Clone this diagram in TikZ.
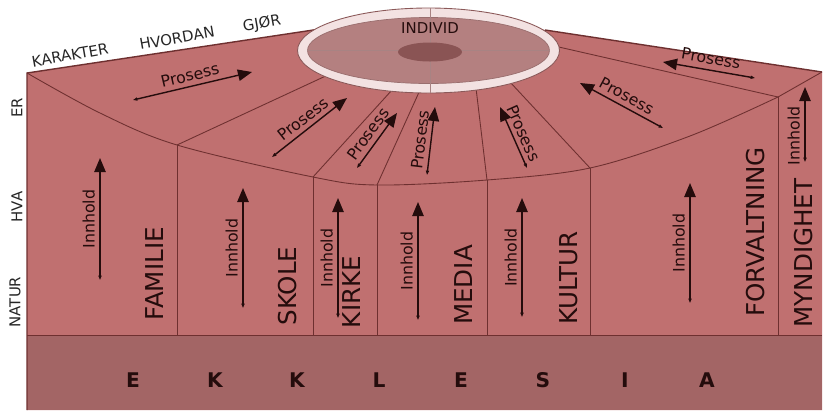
\documentclass[tikz,border=0pt]{standalone}
\usepackage{fontspec}
\setmainfont{DejaVu Sans}
\usetikzlibrary{arrows.meta}

\definecolor{wall}{RGB}{192,112,112}
\definecolor{base}{RGB}{163,101,101}
\definecolor{edge}{RGB}{110,48,48}
\definecolor{ring}{RGB}{243,226,226}
\definecolor{disc}{RGB}{180,128,128}
\definecolor{core}{RGB}{138,84,84}
\definecolor{ink}{RGB}{36,12,12}

\tikzset{
  panel/.style={draw=edge,line width=0.5pt},
  flow/.style={draw=ink,line width=0.8pt,
    arrows={Triangle[length=2.5pt,width=1.8pt]-Triangle[length=8pt,width=6.5pt]}},
  column/.style={font=\fontsize{14}{14}\selectfont,rotate=90,text=ink,inner sep=0pt},
  axis/.style={font=\fontsize{8.5}{9}\selectfont,text=black!85,inner sep=0pt},
  word/.style={font=\fontsize{9}{9}\selectfont,text=ink,inner sep=0pt,sloped,above=2.5pt},
  letter/.style={font=\fontsize{11.5}{12}\selectfont\bfseries,text=ink,inner sep=0pt},
}

\begin{document}
\begin{tikzpicture}[x=0.02cm,y=-0.02cm]
\useasboundingbox (0,0) rectangle (823,410);

% body
\fill[wall] (27,73) -- (320,29) -- (428,10) -- (545,30) -- (822,72) -- (822,410) -- (27,410) -- cycle;
\fill[base] (27,335) rectangle (822,410);
\draw[panel] (27,335) -- (822,335);

% top of the front
\coordinate (v0) at (27,73);
\coordinate (v1) at (177,145);
\coordinate (v2) at (313,177);
\coordinate (v3) at (377,185);
\coordinate (v4) at (487,180);
\coordinate (v5) at (590,168);
\coordinate (v6) at (778,97);
\draw[panel] plot[smooth,tension=0.55] coordinates {(v0) (100,113) (v1) (v2) (v3) (v4) (v5) (690,136) (v6)};
\foreach \i/\x in {1/177,2/313,3/377,4/487,5/590,6/778}
  \draw[panel] (v\i) -- (\x,335);

% lines to the middle
\draw[panel] (v1) -- (330,74);
\draw[panel] (v2) -- (392,90);
\draw[panel] (v3) -- (420,90);
\draw[panel] (v4) -- (476,88);
\draw[panel] (v5) -- (510,82);
\draw[panel] (v6) -- (550,45);

% outline
\draw[edge,line width=0.8pt] (27,410) -- (v0) -- (320,29);
\draw[edge,line width=0.8pt] (545,30) -- (822,72);
\draw[panel] (v6) -- (822,72);

% individ
\fill[ring,draw=edge!80,line width=0.5pt] (428.5,50.5) ellipse [x radius=131,y radius=42.5];
\fill[disc,draw=edge!70,line width=0.4pt] (428.5,50.5) ellipse [x radius=121,y radius=33];
\draw[edge!60,line width=0.4pt] (307,50.5) -- (550,50.5);
\draw[edge!60,line width=0.4pt] (430,8) -- (430,93);
\fill[core] (430,52) ellipse [x radius=32,y radius=9.5];
\draw (430,28) node[axis,text=ink](individ) {INDIVID};

% side and top words
\draw (17,108) node[axis,rotate=90](er) {ER};
\draw (17,207) node[axis,rotate=90](hva) {HVA};
\draw (15,302) node[axis,rotate=90](natur) {NATUR};
\draw (70,55) node[axis,rotate=10](karakter) {KARAKTER};
\draw (177,38) node[axis,rotate=10](hvordan) {HVORDAN};
\draw (262,24) node[axis,rotate=10](gjor) {GJØR};

% columns
\draw (155,274) node[column](familie) {FAMILIE};
\draw (288,286) node[column](skole) {SKOLE};
\draw (352,292) node[column](kirke) {KIRKE};
\draw (464,285) node[column](media) {MEDIA};
\draw (569,278) node[column](kultur) {KULTUR};
\draw (756,232) node[column](forvaltning) {FORVALTNING};
\draw (804,253) node[column](myndighet) {MYNDIGHET};

% ekklesia
\foreach \c [count=\n from 0] in {E,K,K,L,E,S,I,A}
  \draw (133+82*\n,380) node[letter](e\n) {\c};

% innhold
\coordinate (i1a) at (100,280); \coordinate (i1b) at (100,158);
\coordinate (i2a) at (243,308); \coordinate (i2b) at (243,188);
\coordinate (i3a) at (338,318); \coordinate (i3b) at (338,198);
\coordinate (i4a) at (418,320); \coordinate (i4b) at (418,202);
\coordinate (i5a) at (522,317); \coordinate (i5b) at (522,198);
\coordinate (i6a) at (690,303); \coordinate (i6b) at (690,183);
\coordinate (i7a) at (805,162); \coordinate (i7b) at (805,87);
\foreach \i in {1,...,6}
  \draw[flow] (i\i a) -- node[word]{Innhold} (i\i b);
\draw[flow] (i7a) -- node[word,pos=0.35]{Innhold} (i7b);

% prosess
\coordinate (p1a) at (133,100); \coordinate (p1b) at (252,72);
\coordinate (p2a) at (272,157); \coordinate (p2b) at (347,98);
\coordinate (p3a) at (357,168); \coordinate (p3b) at (397,113);
\coordinate (p4a) at (427,175); \coordinate (p4b) at (435,107);
\coordinate (p5a) at (527,168); \coordinate (p5b) at (500,107);
\coordinate (p6a) at (663,128); \coordinate (p6b) at (580,83);
\coordinate (p7a) at (755,78); \coordinate (p7b) at (663,62);
\foreach \i in {1,...,6}
  \draw[flow] (p\i a) -- node[word]{Prosess} (p\i b);
\draw[flow] (p7a) -- node[word,above=0.5pt]{Prosess} (p7b);
\end{tikzpicture}
\end{document}
